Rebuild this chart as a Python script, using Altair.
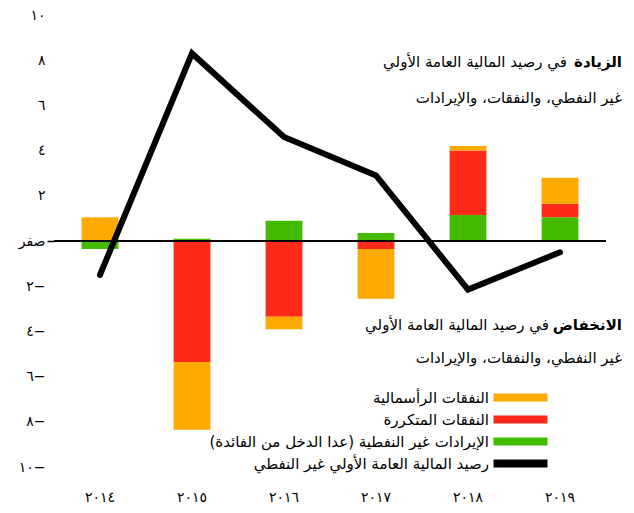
import altair as alt
import pandas as pd

years = ["٢٠١٤", "٢٠١٥", "٢٠١٦", "٢٠١٧", "٢٠١٨", "٢٠١٩"]
capital = [1.05, -3.0, -0.55, -2.2, 0.2, 1.15]
current = [0.0, -5.35, -3.35, -0.35, 2.85, 0.6]
revenue = [-0.35, 0.1, 0.9, 0.35, 1.15, 1.05]
balance = [-1.5, 8.3, 4.6, 2.9, -2.15, -0.5]

s_cap = "النفقات الرأسمالية"
s_cur = "النفقات المتكررة"
s_rev = "الإيرادات غير النفطية (عدا الدخل من الفائدة)"
s_bal = "رصيد المالية العامة الأولي غير النفطي"
series = [s_cap, s_cur, s_rev, s_bal]
colors = ["#FFAA00", "#FF2A1A", "#44BB00", "#000000"]

y_ticks = [-10, -8, -6, -4, -2, 0, 2, 4, 6, 8, 10]
y_labels = ["١٠−", "٨−", "٦−", "٤−", "٢−", "صفر", "٢", "٤", "٦", "٨", "١٠"]

FONT = "DejaVu Sans"

rows = []
for i, yr in enumerate(years):
    rows.append({"year": yr, "series": s_rev, "value": revenue[i], "ord": 0})
    rows.append({"year": yr, "series": s_cur, "value": current[i], "ord": 1})
    rows.append({"year": yr, "series": s_cap, "value": capital[i], "ord": 2})
bars_df = pd.DataFrame(rows)
line_df = pd.DataFrame({"year": years, "value": balance, "series": [s_bal] * len(years)})

label_expr = "[" + ",".join("'%s'" % l for l in y_labels) + "][(datum.value + 10) / 2]"

x_enc = alt.X("year:N", sort=years,
              scale=alt.Scale(paddingInner=0.6, paddingOuter=0.3),
              axis=alt.Axis(title=None, domain=False, ticks=False, labelAngle=0,
                            labelFont=FONT, labelFontSize=14, labelColor="black",
                            labelPadding=23))
y_scale = alt.Scale(domain=[-10, 10], nice=False)
y_axis = alt.Axis(title=None, domain=False, grid=False, values=y_ticks,
                  labelExpr=label_expr, labelFont=FONT, labelFontSize=14,
                  labelColor="black", tickSize=7, tickWidth=1.5,
                  tickColor={"condition": {"test": "datum.value === 0", "value": "black"},
                             "value": "transparent"},
                  labelPadding=2)

legend = alt.Legend(title=None, orient="none", legendX=459, legendY=375,
                    symbolType="M-4,-0.6H4V0.6H-4Z", symbolSize=182,
                    symbolStrokeWidth=0, symbolOpacity=1,
                    labelAlign="right", labelOffset={"expr": "-39"}, labelLimit=0,
                    labelFont=FONT, labelFontSize=15, labelColor="black",
                    rowPadding=6, padding=0)
color_scale = alt.Scale(domain=series, range=colors)

bars = alt.Chart(bars_df).mark_bar(opacity=1).encode(
    x=x_enc,
    y=alt.Y("value:Q", stack="zero", scale=y_scale, axis=y_axis),
    color=alt.Color("series:N", scale=color_scale, legend=legend),
    order=alt.Order("ord:Q"),
)

zero = alt.Chart(bars_df).mark_rule(color="black", strokeWidth=1.5).encode(
    y=alt.datum(0)
)

line = alt.Chart(line_df).mark_line(strokeWidth=6, strokeCap="round", strokeJoin="miter").encode(
    x=alt.X("year:N", sort=years),
    y=alt.Y("value:Q"),
    color=alt.Color("series:N", scale=color_scale, legend=legend),
)

def txt(text, x, y, bold=False):
    return alt.Chart(pd.DataFrame({"t": [text]})).mark_text(
        align="right", baseline="middle", font=FONT, fontSize=15,
        fontWeight="bold" if bold else "normal", color="black"
    ).encode(x=alt.value(x), y=alt.value(y), text="t:N")

line1_bold = "الزيادة"
line1_rest = "في رصيد المالية العامة الأولي"
line2 = "غير النفطي، والنفقات، والإيرادات"
line3_bold = "الانخفاض"
line3_rest = "في رصيد المالية العامة الأولي"

annots = [
    txt(line1_bold, 568, 47, True),
    txt(line1_rest, 568 - 55, 47),
    txt(line2, 568, 83),
    txt(line3_bold, 568, 310, True),
    txt(line3_rest, 568 - 73, 310),
    txt(line2, 568, 343),
]

chart = alt.layer(bars, zero, line, *annots).properties(
    width=552, height=452, autosize="none",
    padding={"left": 46, "top": 7, "right": 20, "bottom": 40},
).configure(font=FONT).configure_view(stroke=None)

chart.save("out.html", embed_options={"renderer": "svg", "actions": False})
